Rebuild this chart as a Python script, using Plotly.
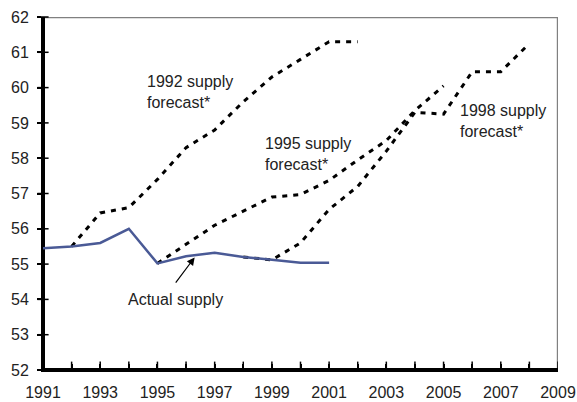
import plotly.graph_objects as go

years_actual = [1991, 1992, 1993, 1994, 1995, 1996, 1997, 1998, 1999, 2000, 2001]
actual_supply = [55.45, 55.5, 55.6, 56.0, 55.02, 55.22, 55.32, 55.2, 55.12, 55.04, 55.04]

years_f1992 = list(range(1992, 2003))
forecast_1992 = [55.5, 56.45, 56.6, 57.4, 58.3, 58.8, 59.6, 60.3, 60.8, 61.3, 61.3]

years_f1995 = list(range(1995, 2006))
forecast_1995 = [55.02, 55.55, 56.1, 56.5, 56.9, 56.97, 57.37, 57.95, 58.5, 59.35, 60.05]

years_f1998 = list(range(1998, 2009))
forecast_1998 = [55.2, 55.12, 55.6, 56.55, 57.2, 58.2, 59.3, 59.25, 60.45, 60.45, 61.25]

x_range = [1991, 2009]
y_range = [52, 62]
x_ticks = list(range(x_range[0], x_range[1] + 1))
x_labels = [str(y) if (y - 1991) % 2 == 0 else "" for y in x_ticks]
y_ticks = list(range(y_range[0], y_range[1] + 1))

FONT = "Liberation Sans, Arial, sans-serif"
dash_style = "5px,6px"

W, H = 577, 402
ML, MR, MT, MB = 43, 19, 17, 32
# one pixel expressed in data units, so frame lines sit just inside the clip area
px_x = (x_range[1] - x_range[0]) / (W - ML - MR)
px_y = (y_range[1] - y_range[0]) / (H - MT - MB)

fig = go.Figure()
# grey top/right frame
fig.add_trace(go.Scatter(x=[x_range[0], x_range[1] - 0.6 * px_x, x_range[1] - 0.6 * px_x],
                         y=[y_range[1] - 0.6 * px_y, y_range[1] - 0.6 * px_y, y_range[0]],
                         mode="lines", line=dict(color="#808080", width=1.2),
                         showlegend=False, hoverinfo="skip"))
# black left/bottom axis lines
fig.add_trace(go.Scatter(x=[x_range[0] + 1.0 * px_x, x_range[0] + 1.0 * px_x, x_range[1]],
                         y=[y_range[1], y_range[0] + 1.0 * px_y, y_range[0] + 1.0 * px_y],
                         mode="lines", line=dict(color="black", width=2),
                         showlegend=False, hoverinfo="skip"))
# tick marks
fig.add_trace(go.Scatter(x=x_ticks, y=[y_range[0]] * len(x_ticks), mode="markers",
                         marker=dict(symbol="line-ns", size=12, line=dict(color="black", width=1.5)),
                         cliponaxis=True, showlegend=False, hoverinfo="skip"))
fig.add_trace(go.Scatter(x=[x_range[0]] * len(y_ticks), y=y_ticks, mode="markers",
                         marker=dict(symbol="line-ew", size=8, line=dict(color="black", width=1.5)),
                         cliponaxis=False, showlegend=False, hoverinfo="skip"))

for xs, ys in [(years_f1992, forecast_1992), (years_f1995, forecast_1995), (years_f1998, forecast_1998)]:
    fig.add_trace(go.Scatter(x=xs, y=ys, mode="lines",
                             line=dict(color="black", width=3, dash=dash_style),
                             showlegend=False, hoverinfo="skip"))
fig.add_trace(go.Scatter(x=years_actual, y=actual_supply, mode="lines",
                         line=dict(color="#4a5a96", width=2.5),
                         showlegend=False, hoverinfo="skip"))

ann_font = dict(family=FONT, size=16, color="#222")
fig.add_annotation(x=1994.55, y=59.88, text="1992 supply<br>forecast*", showarrow=False,
                   xanchor="left", yanchor="middle", align="left", font=ann_font, xref="x", yref="y")
fig.add_annotation(x=1998.68, y=58.12, text="1995 supply<br>forecast*", showarrow=False,
                   xanchor="left", yanchor="middle", align="left", font=ann_font, xref="x", yref="y")
fig.add_annotation(x=2005.5, y=59.05, text="1998 supply<br>forecast*", showarrow=False,
                   xanchor="left", yanchor="middle", align="left", font=ann_font, xref="x", yref="y")
fig.add_annotation(x=1996.3, y=55.19, ax=1995.6, ay=54.43, axref="x", ayref="y",
                   text="", showarrow=True, arrowhead=2, arrowsize=1.3, arrowwidth=1.2,
                   arrowcolor="black", xref="x", yref="y")
fig.add_annotation(x=1993.9, y=54.0, text="Actual supply", showarrow=False,
                   xanchor="left", yanchor="middle", font=ann_font, xref="x", yref="y")

fig.update_layout(
    width=W, height=H,
    margin=dict(l=ML, r=MR, t=MT, b=MB),
    paper_bgcolor="white", plot_bgcolor="white",
    font=dict(family=FONT, size=16, color="#222"),
    xaxis=dict(range=x_range, tickvals=x_ticks, ticktext=x_labels,
               ticks="inside", ticklen=6, tickcolor="black", tickwidth=1.5,
               showline=True, linecolor="black", linewidth=2, showgrid=False,
               zeroline=False, tickfont=dict(size=16, color="#222"), fixedrange=True,
               automargin=False, ticklabelstandoff=7),
    yaxis=dict(range=y_range, tickvals=y_ticks,
               ticks="outside", ticklen=4, tickcolor="black", tickwidth=1.5,
               showline=True, linecolor="black", linewidth=2, showgrid=False,
               zeroline=False, tickfont=dict(size=16, color="#222"), fixedrange=True,
               automargin=False, ticklabelstandoff=5),
)

fig.write_html("out.html", config={"displayModeBar": False},
               post_script="document.body.style.margin='0';document.body.style.overflow='hidden';")
